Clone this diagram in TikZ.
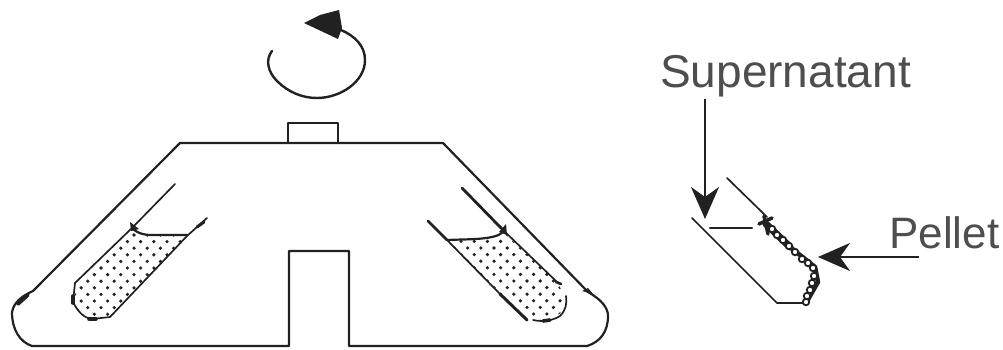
\documentclass[tikz,border=0pt]{standalone}
\usepackage{fontspec}
\setmainfont{Liberation Sans}
\usetikzlibrary{arrows.meta}
\definecolor{ink}{gray}{0.13}
\tikzset{
  outline/.style={draw=ink,line width=2.2pt,line join=round,line cap=round},
  thin outline/.style={draw=ink,line width=1.7pt,line join=round,line cap=round},
  heavy/.style={draw=ink,line width=3.6pt,line cap=round},
  label text/.style={inner sep=0pt,text=ink!80},
  barbed/.style={draw=ink,line width=2.4pt,-{Stealth[length=32pt,width=28pt,inset=10pt]}},
  bead/.style={circle,draw=ink,line width=1.8pt,fill=white,minimum size=6.5pt,inner sep=0pt}
}
\begin{document}
\begin{tikzpicture}[x=1pt,y=-1pt]
\useasboundingbox (0,0) rectangle (1003,350);
% rotation arrow
\draw[outline,line width=2.4pt] (272,51) .. controls (265,60) and (268,72) .. (277,81)
  .. controls (288,92) and (302,98) .. (317,98)
  .. controls (340,98) and (365,82) .. (365,60)
  .. controls (365,46) and (355,36) .. (341,30);
\fill[ink] (304,23) -- (320,15) -- (339,10) -- (342,28) -- (338,39) -- cycle;
% rotor body
\draw[outline] (180,143) -- (443,143) -- (588,292)
  .. controls (602,300) and (608,308) .. (608,316)
  .. controls (608,332) and (600,342) .. (587,346)
  -- (349,346) -- (349,251) -- (289,251) -- (289,346) -- (32,346)
  .. controls (20,342) and (12,330) .. (12,312)
  .. controls (14,302) and (22,296) .. (33,291) -- cycle;
\draw[outline] (288,143) -- (288,123) -- (338,123) -- (338,143);
\draw[heavy] (18,304) -- (28,295);
% left tube
\begin{scope}
\clip (132,231) .. controls (140,236) and (150,235) .. (187,235) -- (110,317)
  -- (92,319) -- (75,300) -- (75,283) -- cycle;
\foreach \i in {-12,...,12}\foreach \j in {-12,...,12}{
  \fill[ink] ({134+6.6*\i+6.6*\j},{235+6.6*\i-6.6*\j}) circle (1.8pt);}
\end{scope}
\draw[thin outline] (175,184) -- (132,228) -- (75,283) -- (73,302)
  .. controls (78,312) and (84,318) .. (92,319) -- (110,317) -- (187,236);
\draw[thin outline] (187,236) -- (197,227) -- (207,218);
\draw[outline] (132,228) .. controls (138,234) and (146,235) .. (150,235) -- (187,235);
\fill[ink] (130,222) -- (139,229) -- (131,231) -- cycle;
\draw[heavy] (73,296) -- (73,303);
\draw[heavy] (89,319) -- (96,319);
\draw[heavy,line width=3pt] (197,227) -- (204,222);
% right tube
\begin{scope}
\clip (447,240) .. controls (470,239) and (495,239) .. (503,232) -- (558,283)
  -- (566,300) -- (565,310) -- (553,318) -- (533,320) -- (527,320) -- cycle;
\foreach \i in {-12,...,12}\foreach \j in {-12,...,12}{
  \fill[ink] ({494+6.6*\i+6.6*\j},{248+6.6*\i-6.6*\j}) circle (1.8pt);}
\end{scope}
\draw[outline,line width=2.8pt] (462,188) -- (503,230);
\draw[thin outline] (503,230) -- (558,283);
\draw[thin outline] (566,296) .. controls (567,304) and (566,310) .. (560,316)
  .. controls (552,321) and (542,322) .. (533,320);
\draw[outline,line width=2.8pt] (428,221) -- (447,240);
\draw[thin outline] (447,240) -- (500,294);
\draw[outline,line width=3pt] (500,294) -- (527,320);
\draw[outline] (447,240) .. controls (470,239) and (495,240) .. (503,232);
\fill[ink] (499,232) -- (506,224) -- (507,235) -- cycle;
\draw[heavy] (543,321) -- (550,320);
\draw[heavy,line width=2.6pt] (556,282) -- (561,284);
\fill[ink] (582,291) -- (588,288) -- (593,294) -- cycle;
% small tube
\draw[thin outline] (727,178) -- (767,217);
\draw[thin outline] (692,218) -- (777,303) -- (806,303);
\draw[outline] (710,228) -- (752,228);
\draw[draw=ink,line width=7pt,line join=round,line cap=round] (766,224) -- (790,247);
\draw[draw=ink,line width=3.5pt,line cap=round] (759,224) -- (772,218);
\draw[draw=ink,line width=3.5pt,line cap=round] (764,216) -- (768,234);
\draw[heavy,line width=4.5pt,line join=round] (790,247) -- (815,267) -- (818,282) -- (806,303);
\foreach \px/\py [count=\k] in {772/229,777/235,783/240,789/246,795/252,802/259,808/263,813/268,814/276,812/283,810/290,807/296,806/302}
  \node[bead] (b\k) at (\px,\py) {};
% labels and arrows
\node[label text,font=\fontsize{46}{46}\selectfont,anchor=base west] (sup) at (660,88) {Supernatant};
\node[label text,font=\fontsize{44}{44}\selectfont,anchor=base west] (pel) at (889,248) {Pellet};
\coordinate (suptip) at (705,219);
\coordinate (peltip) at (818,257);
\coordinate (supstart) at (705,99);
\coordinate (pelstart) at (919,257);
\draw[barbed] (supstart) -- (suptip);
\draw[barbed] (pelstart) -- (peltip);
\end{tikzpicture}
\end{document}
